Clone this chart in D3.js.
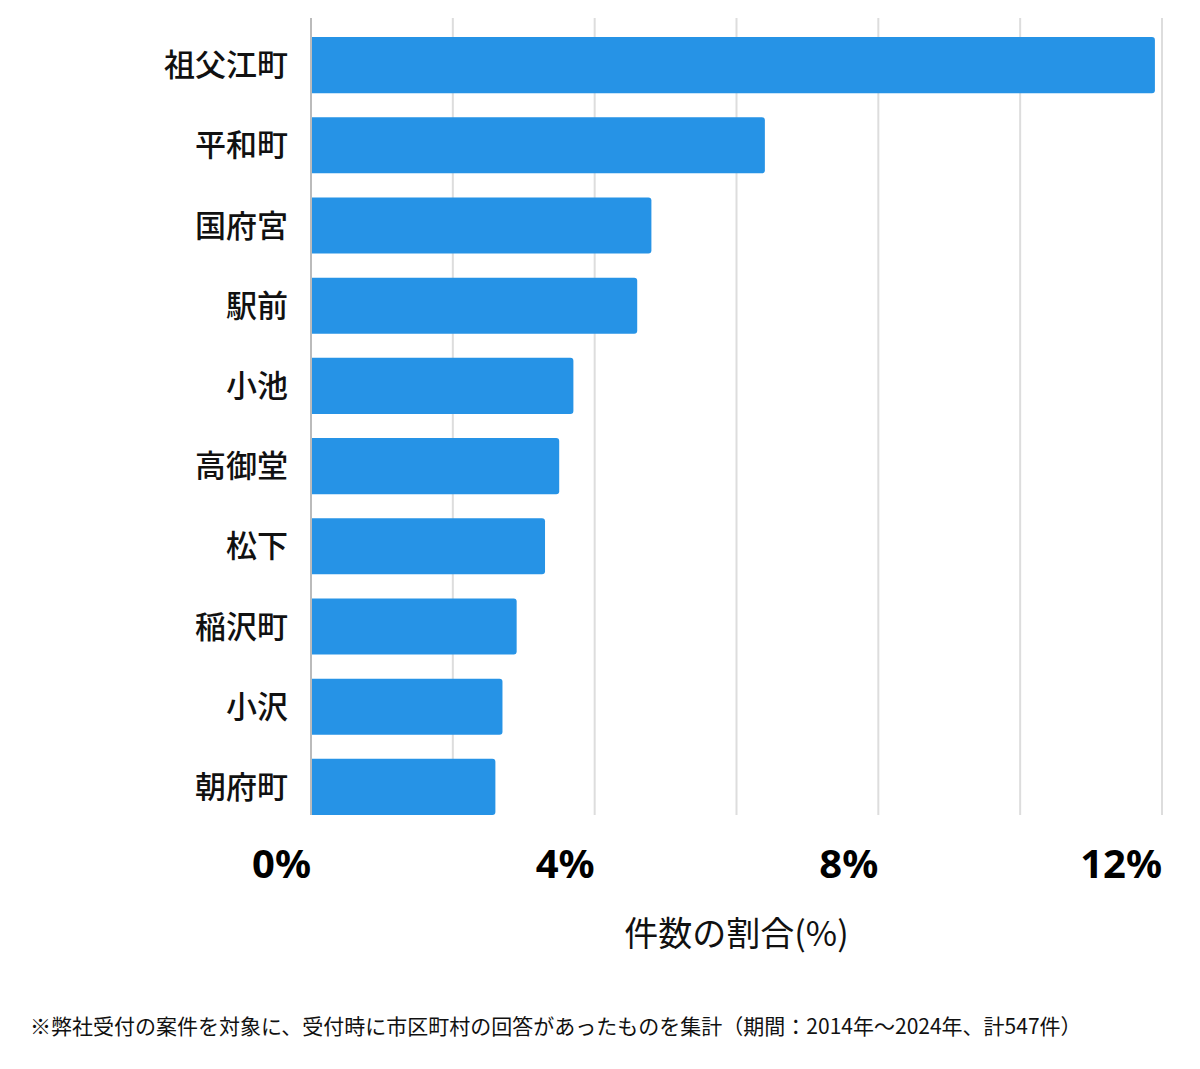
<!DOCTYPE html>
<html><head><meta charset="utf-8">
<script src="https://cdn.jsdelivr.net/npm/d3@7"></script>
<style>body{margin:0;background:#fff}</style>
</head><body><svg id="c" width="1200" height="1069"></svg>
<script>
const categories = ["祖父江町","平和町","国府宮","駅前","小池","高御堂","松下","稲沢町","小沢","朝府町"];
const values = [11.9, 6.4, 4.8, 4.6, 3.7, 3.5, 3.3, 2.9, 2.7, 2.6];
const tickValues = [0, 4, 8, 12];
const gridValues = [0, 2, 4, 6, 8, 10, 12];
const axisTitle = "件数の割合(%)";
const footnote = "※弊社受付の案件を対象に、受付時に市区町村の回答があったものを集計（期間：2014年～2024年、計547件）";

(function () {
const svg = d3.select("#c");
const pL = 311, pR = 1162, gT = 18, gB = 815;
const x = d3.scaleLinear().domain([0, 12]).range([pL, pR]);
const y = d3.scaleBand().domain(categories).range([25, 827]).paddingInner(0.3).paddingOuter(0.15);
const font = "'Noto Sans CJK JP','Noto Sans',sans-serif";

svg.append("g").selectAll("line").data(gridValues.filter(d => d > 0)).join("line")
  .attr("x1", d => x(d)).attr("x2", d => x(d)).attr("y1", gT).attr("y2", gB)
  .attr("stroke", "#dddddd").attr("stroke-width", 2);

svg.append("g").selectAll("path").data(values).join("path")
  .attr("fill", "#2693e6")
  .attr("d", (d, i) => {
    const x0 = x(0), x1 = x(d), y0 = y(categories[i]), h = y.bandwidth(), r = 3;
    return `M${x0},${y0}H${x1 - r}Q${x1},${y0} ${x1},${y0 + r}V${y0 + h - r}Q${x1},${y0 + h} ${x1 - r},${y0 + h}H${x0}Z`;
  });

svg.append("line").attr("x1", pL).attr("x2", pL).attr("y1", gT).attr("y2", gB)
  .attr("stroke", "#bbbbbb").attr("stroke-width", 2);

svg.append("g").selectAll("text").data(categories).join("text")
  .attr("x", 288).attr("y", d => y(d) + y.bandwidth() / 2)
  .attr("dy", "0.36em").attr("text-anchor", "end")
  .attr("font-family", font).attr("font-weight", 500).attr("font-size", 31).attr("fill", "#111")
  .text(d => d);

svg.append("g").selectAll("text").data(tickValues).join("text")
  .attr("x", d => x(d)).attr("y", 878).attr("text-anchor", "end")
  .attr("font-family", "'Noto Sans','Open Sans',sans-serif").attr("font-weight", "bold")
  .attr("font-size", 40).attr("fill", "#000")
  .text(d => d + "%");

svg.append("text").attr("x", (pL + pR) / 2).attr("y", 946).attr("text-anchor", "middle")
  .attr("font-family", font).attr("font-size", 34).attr("fill", "#111").text(axisTitle);

svg.append("text").attr("x", 30).attr("y", 1034)
  .attr("font-family", font).attr("font-size", 21).attr("fill", "#111").text(footnote);
})();
</script></body></html>
